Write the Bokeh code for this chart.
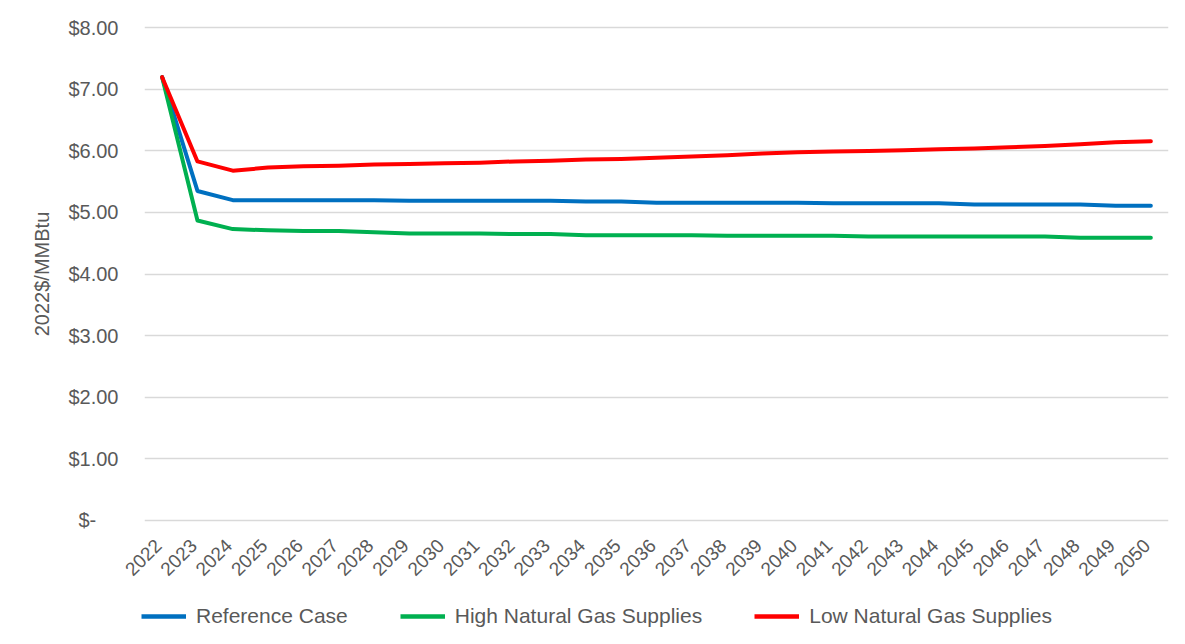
import math
from bokeh.plotting import figure
from bokeh.models import (ColumnDataSource, FixedTicker, Legend, LegendItem,
                          LinearAxis, Range1d)
from bokeh.embed import file_html
from bokeh.resources import INLINE

years = list(range(2022, 2051))
reference_case = [7.20, 5.35, 5.20, 5.20, 5.20, 5.20, 5.20, 5.19, 5.19, 5.19,
                  5.19, 5.19, 5.18, 5.18, 5.16, 5.16, 5.16, 5.16, 5.16, 5.15,
                  5.15, 5.15, 5.15, 5.13, 5.13, 5.13, 5.13, 5.11, 5.11]
high_supply = [7.20, 4.87, 4.73, 4.71, 4.70, 4.70, 4.68, 4.66, 4.66, 4.66,
               4.65, 4.65, 4.63, 4.63, 4.63, 4.63, 4.62, 4.62, 4.62, 4.62,
               4.61, 4.61, 4.61, 4.61, 4.61, 4.61, 4.59, 4.59, 4.59]
low_supply = [7.20, 5.83, 5.68, 5.73, 5.75, 5.76, 5.78, 5.79, 5.80, 5.81,
              5.83, 5.84, 5.86, 5.87, 5.89, 5.91, 5.93, 5.96, 5.98, 5.99,
              6.00, 6.01, 6.03, 6.04, 6.06, 6.08, 6.11, 6.14, 6.16]

series_names = ["Reference Case", "High Natural Gas Supplies", "Low Natural Gas Supplies"]
series_colors = ["#0070C0", "#00B050", "#FF0000"]

y_ticks = [0, 1, 2, 3, 4, 5, 6, 7, 8]
y_tick_labels = ["$-\u00a0\u00a0\u00a0\u00a0", "$1.00", "$2.00", "$3.00", "$4.00",
                 "$5.00", "$6.00", "$7.00", "$8.00"]
y_axis_title = "2022$/MMBtu"

FONT = "Liberation Sans"
GRAY = "#595959"

source = ColumnDataSource(dict(year=years, ref=reference_case,
                               high=high_supply, low=low_supply))
cols = ["ref", "high", "low"]

# ---------------- main chart ----------------
p = figure(width=1185, height=594, output_backend="svg", toolbar_location=None,
           x_range=Range1d(2021.5, 2050.5), y_range=Range1d(-0.04, 8.04),
           min_border_left=144, min_border_right=17, min_border_top=25,
           min_border_bottom=72)
p.outline_line_color = None
p.background_fill_color = "white"
p.border_fill_color = "white"
# slightly shifted range used only to place the rotated year labels like the original
p.extra_x_ranges = {"labels": Range1d(2021.5 + 0.11, 2050.5 + 0.11)}

for col, color in zip(cols, series_colors):
    p.line("year", col, source=source, line_color=color, line_width=4,
           line_join="round", line_cap="round")

p.xaxis.visible = False
xax = LinearAxis(x_range_name="labels", ticker=FixedTicker(ticks=years))
xax.major_label_orientation = math.pi / 4
xax.major_label_text_font = FONT
xax.major_label_text_font_size = "19px"
xax.major_label_text_color = GRAY
xax.axis_line_color = None
xax.major_tick_line_color = None
xax.minor_tick_line_color = None
xax.major_label_standoff = 14
p.add_layout(xax, "below")

p.yaxis.ticker = FixedTicker(ticks=y_ticks)
p.yaxis.major_label_overrides = {t: lab for t, lab in zip(y_ticks, y_tick_labels)}
p.yaxis.major_label_text_font = FONT
p.yaxis.major_label_text_font_size = "20px"
p.yaxis.major_label_text_color = GRAY
p.yaxis.axis_line_color = None
p.yaxis.major_tick_line_color = None
p.yaxis.minor_tick_line_color = None
p.yaxis.major_label_standoff = 20
p.yaxis.axis_label = y_axis_title
p.yaxis.axis_label_text_font = FONT
p.yaxis.axis_label_text_font_size = "20px"
p.yaxis.axis_label_text_font_style = "normal"
p.yaxis.axis_label_text_color = GRAY
p.yaxis.axis_label_standoff = 12

p.xgrid.grid_line_color = None
p.ygrid.grid_line_color = "#D9D9D9"
p.ygrid.grid_line_width = 1.5

# ---------------- legend strip (separate root, so its frame is the full width) ----------------
lf = figure(width=1185, height=50, output_backend="svg", toolbar_location=None,
            x_range=Range1d(0, 1), y_range=Range1d(0, 1),
            min_border_left=0, min_border_right=0, min_border_top=0,
            min_border_bottom=0)
lf.axis.visible = False
lf.grid.visible = False
lf.outline_line_color = None
lf.border_fill_color = "white"
leg_renderers = []
for col, color in zip(cols, series_colors):
    r = lf.line("year", col, source=source, line_color=color, line_width=4.5)
    r.visible = False  # only used to draw the legend swatches
    leg_renderers.append(r)

legend = Legend(items=[LegendItem(label=n, renderers=[r])
                       for n, r in zip(series_names, leg_renderers)],
                orientation="horizontal", location=(141, 16),
                glyph_width=45, glyph_height=22, label_standoff=10, spacing=52,
                padding=5, margin=0, border_line_color=None,
                background_fill_alpha=0,
                label_text_font=FONT, label_text_font_size="21px",
                label_text_color=GRAY, label_height=22)
lf.add_layout(legend, "center")

open("out.html", "w").write(file_html([p, lf], INLINE))
